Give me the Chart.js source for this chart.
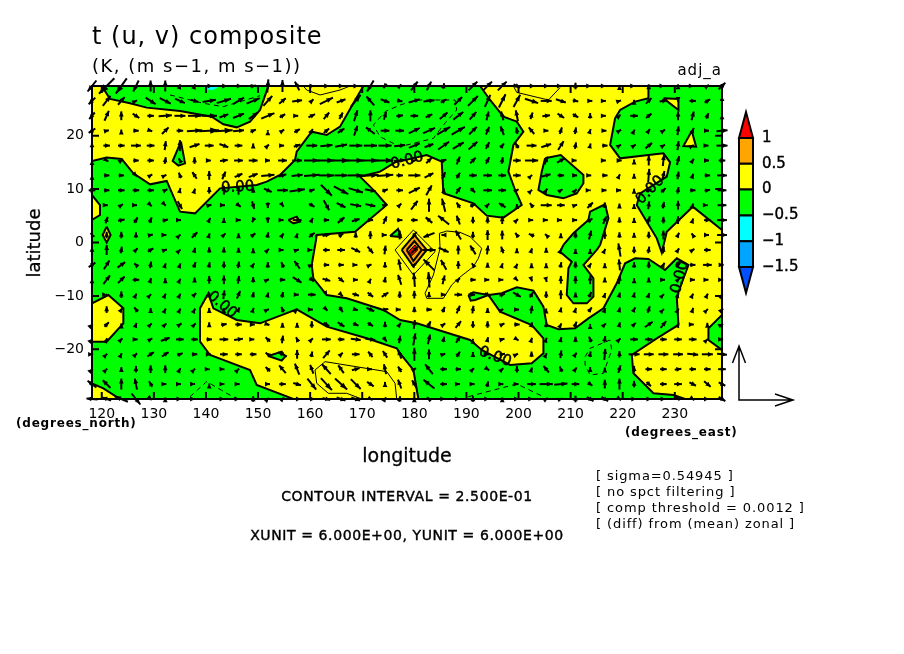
<!DOCTYPE html>
<html>
<head>
<meta charset="utf-8">
<script src="https://cdn.jsdelivr.net/npm/chart.js@4"></script>
<style>
  html, body { margin: 0; padding: 0; background: #fff; }
  canvas { display: block; }
</style>
</head>
<body>
<canvas id="chart" width="904" height="654"></canvas>
<script>
// tick labels
const lonTicks = [120, 130, 140, 150, 160, 170, 180, 190, 200, 210, 220, 230];
const latTicks = [-20, -10, 0, 10, 20];

// wind grid
const gridLons = [118.125,120.938,123.75,126.563,129.375,132.188,135,137.813,140.625,143.438,146.25,149.063,151.875,154.688,157.5,160.313,163.125,165.938,168.75,171.563,174.375,177.188,180,182.813,185.625,188.438,191.25,194.063,196.875,199.688,202.5,205.313,208.125,210.938,213.75,216.563,219.375,222.188,225,227.813,230.625,233.438,236.25,239.0625];
const gridLats = [29.30,26.51,23.72,20.93,18.14,15.35,12.56,9.77,6.98,4.19,1.40,-1.40,-4.19,-6.98,-9.77,-12.56,-15.35,-18.14,-20.93,-23.72,-26.51,-29.30];

// u and v in tenths of m/s, one line per latitude
const uRows = [
[-8,-14,-10,-5,0,0,1,1,6,6,6,5,1,0,-4,5,5,5,5,-6,-3,3,6,4,1,0,8,8,8,6,6,5,2,0,2,2,0,2,0,2,0,2,3,6],
[-6,7,6,2,9,10,9,7,12,13,10,12,8,6,9,3,12,8,9,-7,8,5,10,10,5,7,9,5,6,6,12,10,9,5,4,2,3,0,5,7,0,6,5,0],
[-5,4,0,6,6,12,10,12,14,8,10,8,12,5,2,6,5,3,3,0,2,6,7,6,7,9,6,2,-2,-2,2,7,6,5,0,2,2,7,5,0,0,2,2,0],
[-6,4,0,5,3,6,6,14,18,16,10,5,0,3,5,2,5,6,3,-8,8,8,10,11,12,12,7,3,-3,-1,-5,4,2,1,1,3,3,1,2,3,1,2,3,10],
[0,6,6,9,7,1,0,9,8,8,7,0,2,3,6,10,11,11,12,12,12,10,10,8,10,10,8,3,3,-3,9,9,5,1,1,5,3,3,6,3,1,2,2,10],
[0,3,3,5,6,1,-2,0,3,7,8,8,4,8,9,14,15,15,15,15,15,10,3,5,5,3,5,3,1,7,12,3,7,2,0,2,4,0,0,1,2,2,3,6],
[0,5,5,2,3,2,-2,-4,0,3,7,8,12,7,10,14,14,12,14,15,15,6,11,8,3,3,7,8,7,7,1,8,6,3,2,5,1,0,1,2,1,1,5,9],
[6,5,6,6,6,4,1,1,0,0,0,0,7,10,14,5,10,13,13,10,5,6,10,5,0,4,4,8,7,3,1,2,3,2,1,3,3,0,5,4,1,5,5,8],
[0,2,3,2,2,1,4,0,4,2,4,2,0,2,0,5,5,8,10,9,4,3,6,0,-3,-3,5,3,-6,0,-3,10,7,3,5,0,0,0,1,1,0,1,1,8],
[0,2,6,3,2,5,2,0,2,0,4,-2,0,2,8,2,5,6,7,5,3,5,6,-6,-10,-3,0,0,0,2,3,3,2,3,4,3,0,0,2,0,0,1,6,9],
[-2,0,0,0,4,2,1,5,1,3,0,4,1,2,1,5,7,4,0,0,3,0,-4,-10,-4,-5,0,0,0,-3,-5,-2,0,0,2,0,0,0,0,0,2,-2,3,9],
[0,0,1,3,5,3,1,1,0,0,0,0,2,2,3,1,6,7,8,5,1,0,6,12,9,0,-5,1,-2,0,1,0,1,0,0,1,-2,0,1,1,2,3,6,0],
[6,5,7,-3,1,1,1,2,1,0,1,2,0,-2,-5,2,5,5,3,2,0,-2,3,-10,-5,0,-2,0,1,1,0,0,1,0,2,0,-1,0,0,2,4,5,8,3],
[0,6,6,6,1,0,1,0,0,0,1,0,2,5,8,4,7,5,4,1,1,-3,-1,-1,2,3,5,3,2,2,1,1,0,0,0,0,1,0,0,3,3,4,2,2],
[0,1,0,1,1,1,1,3,0,1,3,1,1,1,3,7,1,3,6,5,6,0,0,0,4,7,4,5,5,7,3,0,0,0,2,1,1,1,1,1,1,1,1,1],
[0,0,2,-3,0,1,1,1,0,0,2,1,2,-2,1,2,2,3,4,7,6,2,0,5,2,3,1,0,2,4,1,0,1,1,3,1,1,2,2,1,1,1,1,2],
[1,4,0,1,2,2,3,2,0,5,6,3,3,0,0,0,5,6,5,5,0,2,1,3,3,5,0,0,4,5,1,0,1,2,0,2,1,3,7,5,1,2,0,2],
[1,1,2,3,3,8,7,6,5,8,8,2,-4,1,-2,2,8,6,9,9,3,1,2,2,1,4,0,1,4,3,1,1,1,0,-2,1,2,7,7,6,7,7,1,2],
[2,1,1,2,6,6,5,5,3,7,6,6,-4,-8,0,1,6,3,7,-4,-4,-3,0,0,3,3,0,2,5,2,0,1,1,2,1,1,0,10,9,9,9,10,10,9],
[1,1,0,0,0,0,1,1,1,1,1,0,-4,-6,-4,-3,-8,-5,7,3,-2,-3,3,-7,6,5,2,3,2,0,1,-5,-2,2,0,0,2,0,6,6,6,6,6,7],
[-8,-7,0,-2,-3,2,2,1,0,1,2,0,4,6,7,8,10,11,9,6,0,-3,-4,-10,6,3,3,1,2,3,8,12,12,7,4,0,0,0,4,6,7,6,6,6],
[-10,-8,-12,8,2,0,3,1,0,1,2,0,2,3,7,6,7,8,8,4,2,1,0,-4,3,3,0,3,0,4,3,3,3,0,6,6,3,4,5,4,3,3,3,6]
];
const vRows = [
[-10,-14,-14,-10,10,10,3,3,0,0,0,1,12,11,8,0,0,0,0,-10,-4,3,8,8,5,0,8,8,8,-3,0,0,0,6,0,0,2,0,3,0,3,0,2,6],
[-6,9,7,1,-6,-5,-4,-2,2,4,6,5,9,5,1,3,6,3,11,8,-3,-1,3,1,3,7,9,11,12,11,-4,0,-3,-1,0,0,1,2,5,1,-2,0,3,9],
[-6,9,8,-4,0,1,0,0,0,3,4,6,5,3,0,3,6,6,10,10,7,1,0,3,6,7,7,8,8,10,6,1,-4,-3,5,0,2,0,4,0,8,8,5,3],
[-4,1,2,0,-1,6,0,1,1,1,1,2,1,2,3,3,4,4,9,6,0,0,5,5,7,7,7,7,8,6,6,0,6,6,3,0,2,2,3,2,8,5,0,1],
[6,0,0,0,0,8,10,3,0,-3,0,4,2,0,2,0,1,2,0,0,0,1,4,3,7,6,7,6,4,5,0,3,8,6,4,0,2,2,5,2,8,1,0,0],
[1,-2,2,0,0,6,4,6,0,1,0,0,0,0,0,0,0,0,0,0,0,1,1,5,2,7,5,6,6,0,0,7,4,0,0,0,0,2,9,10,8,3,0,0],
[1,0,0,-2,2,1,5,6,8,7,3,3,1,2,1,1,0,0,0,1,1,0,0,4,6,5,0,0,0,0,1,2,0,0,0,0,2,3,12,8,7,3,0,0],
[0,0,0,0,0,2,4,3,6,8,8,5,-3,0,2,2,-10,-7,-4,-2,2,0,5,9,4,6,-4,0,0,2,1,3,2,2,0,0,0,3,2,4,6,0,1,0],
[0,0,2,0,-2,-1,-7,0,1,0,-3,-7,-5,-3,0,-3,-9,-4,-2,-2,2,3,8,12,12,5,2,3,4,2,4,0,0,1,5,5,3,2,7,6,8,3,0,0],
[0,6,1,5,5,1,0,0,4,4,0,-4,-5,0,0,4,0,5,2,0,7,0,0,5,8,8,6,6,7,2,0,0,0,0,3,7,5,4,7,6,7,3,0,0],
[4,6,6,5,1,0,1,5,3,3,3,3,5,3,3,4,2,3,5,7,0,8,-6,-4,0,8,6,9,8,4,2,2,3,6,8,7,5,4,6,8,4,3,0,0],
[6,9,6,3,3,1,1,4,5,5,4,3,2,0,1,0,0,0,-4,-6,8,0,6,0,-4,8,8,8,6,3,3,4,2,2,2,2,12,6,6,6,3,2,0,0],
[4,8,5,3,6,3,3,5,5,6,6,3,5,5,7,1,0,0,0,1,5,10,3,10,9,7,3,4,3,2,3,3,5,6,3,3,10,5,6,4,4,0,0,0],
[3,8,6,0,3,3,2,4,7,8,7,5,1,0,-5,-3,-2,-4,0,2,5,9,13,14,8,3,0,0,0,-2,-3,-4,7,7,8,4,8,3,4,0,3,0,0,0],
[0,0,6,2,1,2,2,3,4,8,7,5,4,5,0,0,-2,-3,-2,-4,4,6,7,5,0,0,0,-3,2,-4,5,6,8,4,5,3,4,4,3,1,3,2,2,1],
[0,6,3,4,3,2,2,2,3,3,4,3,1,5,1,0,-2,-5,-1,-3,1,0,5,0,5,7,7,3,1,0,7,2,4,3,4,3,4,4,6,1,2,3,1,2],
[1,4,2,3,2,2,2,2,4,1,0,0,-1,3,3,6,-3,-4,-2,-3,5,3,8,6,2,6,6,6,2,0,4,5,2,5,1,2,4,3,5,6,3,0,3,1],
[1,2,2,0,2,3,0,0,0,0,1,0,4,7,4,2,0,0,-1,-1,-4,7,11,9,5,6,1,4,1,-2,3,3,4,5,5,6,2,0,0,0,0,0,1,0],
[0,1,2,2,4,4,2,0,0,0,0,0,3,4,8,5,7,3,0,5,6,8,12,9,1,5,4,0,1,1,5,2,7,3,5,10,6,0,0,0,0,-1,0,-1],
[1,1,4,6,7,7,2,1,0,0,1,0,4,7,10,8,9,7,2,0,9,5,2,9,0,0,2,-2,2,6,3,6,5,3,4,3,7,6,0,0,1,0,0,0],
[6,7,10,10,5,0,0,0,1,0,0,0,0,0,-2,-10,-11,-10,-9,-4,4,8,7,8,0,0,0,5,0,0,0,0,1,0,-3,8,10,6,-4,0,0,-3,-5,-3],
[1,3,5,-10,-2,3,0,0,0,0,0,5,2,3,0,0,-2,-3,-3,-2,3,5,3,3,0,0,5,0,3,0,0,2,1,6,-4,-4,-2,0,0,0,-2,-2,0,-4]
];

// t = 0 contour, [lon, lat] outlines
const plotBox = [[118.125,29.3],[239.0625,29.3],[239.0625,-29.3],[118.125,-29.3]];
const mainGreen = [[118.1,15.26],[120.94,15.89],[123.82,15.63],[126.06,12.95],[129.26,10.89],[132.46,11.52],[135.02,5.78],[137.9,5.46],[142.7,10.14],[149.74,10.77],[151.66,11.39],[154.22,12.64],[157.1,15.45],[157.42,17.01],[160.3,20.75],[163.18,20.13],[165.74,21.69],[168.3,26.06],[170.22,29.3],[192.62,29.3],[194.54,26.68],[197.1,23.56],[199.66,22.62],[200.94,20.75],[199.02,18.26],[198.06,13.26],[199.34,9.83],[200.62,7.02],[197.1,4.65],[193.9,5.03],[191.34,7.34],[185.58,9.21],[185.26,15.14],[182.38,16.38],[176.3,15.0],[173.42,13.26],[169.58,12.33],[172.46,9.52],[174.7,7.02],[168.62,2.03],[161.26,1.41],[161.13,0.47],[160.3,-4.21],[160.62,-6.71],[163.18,-9.83],[167.02,-10.45],[174.06,-12.63],[177.26,-14.51],[180.46,-15.13],[190.7,-18.25],[192.94,-20.12],[198.38,-22.93],[202.54,-22.62],[204.78,-20.75],[204.78,-17.94],[202.54,-15.44],[196.46,-12.95],[194.22,-9.83],[196.78,-9.51],[199.66,-8.39],[202.86,-9.01],[204.78,-12.01],[205.42,-15.44],[207.66,-16.25],[210.86,-16.07],[213.42,-14.2],[216.3,-12.32],[218.86,-7.64],[220.46,-3.9],[222.38,-2.96],[224.94,-3.09],[228.14,-5.15],[230.38,-2.96],[232.62,-4.21],[230.38,-10.14],[230.7,-15.44],[226.54,-17.94],[221.74,-21.06],[222.06,-24.49],[225.9,-28.23],[229.74,-28.55],[232,-29.3],[180.78,-29.3],[179.82,-23.87],[177.26,-20.75],[176.62,-19.81],[170.86,-17.94],[163.18,-15.75],[157.42,-12.51],[150.38,-15.13],[145.9,-14.51],[141.42,-12.32],[140.46,-9.51],[138.86,-12.32],[138.86,-18.56],[140.78,-21.06],[148.46,-23.87],[149.74,-26.67],[156.78,-29.3],[123.5,-29.3],[120.3,-27.3],[118.1,-26.36],[118.1,-18.56],[120.94,-18.56],[124.14,-15.13],[124.14,-12.32],[121.26,-9.83],[118.1,-11.39],[118.1,4.22],[119.66,5.15],[119.66,7.02],[118.1,8.9]];
const topGreen = [[120,29.3],[121.58,26.87],[125.42,26.06],[128.62,25.25],[135.02,24.62],[141.1,23.56],[143.34,22.12],[145.9,21.56],[148.46,22.62],[150.38,24.81],[151.98,29.3]];
const rightGreen = [[224.94,29.3],[224.94,26.99],[222.38,26.37],[219.5,24.81],[218.54,23.25],[217.58,18.26],[219.5,15.76],[224.94,16.38],[227.82,16.7],[229.1,15.01],[228.46,12.33],[223.34,9.21],[222.7,7.02],[226.54,0.78],[227.5,-1.9],[228.46,2.03],[233.45,6.71],[239.06,2.34],[239.06,29.3]];
const midGreen = [[205.1,15.76],[208.1,16.38],[212.46,12.64],[212.46,11.08],[211.18,9.21],[208.62,8.27],[205.42,8.9],[203.82,9.83],[204.46,13.26]];
const lowGreen = [[208.62,-0.46],[210.54,1.72],[213.42,4.22],[213.74,5.78],[216.62,7.15],[217.26,4.53],[215.66,-0.46],[215.02,-1.4],[212.46,-4.21],[214.38,-6.71],[214.38,-10.14],[213.1,-11.39],[210.54,-11.39],[209.26,-9.83],[209.58,-4.83],[210.22,-3.59],[207.98,-1.71]];
const edgeGreen = [[239.06,-13.57],[236.46,-16.07],[236.46,-18.25],[239.06,-20.12]];
const smallGreens = [
  [[135.2,18.88],[135.98,14.82],[134.7,14.39],[133.61,15.26]],
  [[151.98,-21.25],[154.54,-20.43],[155.18,-21.37],[154.54,-22.12]],
  [[190.38,-9.83],[191.34,-9.33],[194.22,-9.83],[191.66,-10.76],[190.83,-10.89]],
  [[175.34,1.22],[176.88,2.53],[177.45,1.03]]
];
const smallYellows = [
  [[227.82,26.99],[230.7,26.87],[230.7,24.81]],
  [[233.26,20.88],[231.66,18.07],[234.09,17.94]],
  [[120.94,2.97],[121.7,1.41],[120.94,-0.03],[120.17,1.41]],
  [[155.82,4.22],[157.42,4.84],[158.06,3.9],[156.78,3.59]]
];
const cyanTop = [[139.3,29.3],[142.8,29.3],[141.2,28.5],[140.1,28.7]];

// warm spot near 180E, outer to inner
const spotOuter = [[176.3,-1.4],[179.82,2.34],[183.98,-1.71],[179.82,-6.08]];
const spotMid = [[177.58,-1.4],[180.01,1.41],[182.38,-1.4],[179.82,-4.52]];
const spotInner = [[178.54,-1.4],[180.01,0.28],[181.42,-1.4],[179.82,-3.46]];
const spotCore = [[178.86,-1.71],[180.14,-0.47],[180.65,-1.4],[179.5,-2.46]];

// thin contours
const thinSolid = [
  [[184.81,1.72],[186.22,2.15],[188.78,1.9],[190.7,1.09],[192.94,-1.09],[192.3,-2.96],[191.34,-4.52],[188.46,-6.71],[187.18,-7.95],[185.58,-10.45],[182.38,-10.45],[182.06,-9.51],[183.66,-6.08],[184.94,-1.09],[184.81,1.72]],
  [[160.94,-23.87],[162.86,-22.31],[174.7,-24.18],[176.3,-26.36],[176.62,-29.3]],
  [[160.94,-23.87],[161.26,-26.36],[163.5,-28.23],[167.02,-28.23],[169.9,-29.3]],
  [[158.7,29.3],[159.34,28.55],[161.9,27.62],[165.74,28.55],[167.66,29.3]],
  [[199.02,29.3],[199.66,28.1],[205.74,26.68],[207.98,29.0]]
];
const thinDashed = [
  [[177.26,25.74],[180.46,26.68],[187.82,26.68],[188.14,24.81],[185.58,22.0],[183.66,19.5],[177.26,17.94],[173.42,19.8],[172.14,22.0],[174.38,24.5],[177.26,25.74]],
  [[133.1,27.62],[139.5,26.06],[143.34,25.43],[150.38,27.49]],
  [[212.78,-21.37],[213.74,-19.81],[217.58,-18.25],[217.9,-20.12],[216.3,-24.49],[213.74,-24.8],[212.78,-22.93],[212.78,-21.37]],
  [[190.38,-28.86],[199.66,-26.49],[204.78,-28.86]],
  [[136.94,-28.86],[140.14,-26.05],[145.9,-29.3]]
];

// contour labels: lon, lat, rotation in degrees
const contourLabels = [
  [146.1, 10.3, -3], [178.6, 15.3, -15], [225.3, 9.8, -45],
  [231, -6.5, -75], [195.5, -21.4, 20], [143.1, -11.7, 40]
];

// colour bar
const barLevels = ['1', '0.5', '0', '\u22120.5', '\u22121', '\u22121.5'];
const barColours = ['#ff0000', '#ffa500', '#ffff00', '#00ff00', '#00ffff', '#00a5ff', '#0050ff'];
const refU = 6, refV = 6;

const REF_PX_PER_MS = 9;
const ARROW_PX_PER_MS = 11;

function closed(pts) { return pts.concat([pts[0]]).map(p => ({ x: p[0], y: p[1] })); }

function polygon(pts, colour, border) {
  return {
    data: closed(pts), showLine: true, fill: 'shape', backgroundColor: colour,
    borderColor: '#000', borderWidth: border, pointRadius: 0, tension: 0, borderJoinStyle: 'miter'
  };
}
function thinLine(pts, dash) {
  return {
    data: pts.map(p => ({ x: p[0], y: p[1] })), showLine: true, fill: false,
    borderColor: '#000', borderWidth: 1, borderDash: dash ? [5, 4] : [], pointRadius: 0, tension: 0
  };
}

const windPoints = [];
gridLats.forEach((lat, j) => {
  gridLons.forEach((lon, k) => {
    windPoints.push({ x: lon, y: lat, u: uRows[j][k] / 10, v: vRows[j][k] / 10 });
  });
});

// paint order, first at the bottom (reversed for Chart.js below)
const layers = [
  polygon(plotBox, '#ffff00', 0),
  polygon(mainGreen, '#00ff00', 2),
  polygon(topGreen, '#00ff00', 2),
  polygon(rightGreen, '#00ff00', 2),
  polygon(midGreen, '#00ff00', 2),
  polygon(lowGreen, '#00ff00', 2),
  polygon(edgeGreen, '#00ff00', 2),
  ...smallGreens.map(p => polygon(p, '#00ff00', 2)),
  ...smallYellows.map(p => polygon(p, '#ffff00', 2)),
  polygon(cyanTop, '#00ffff', 0),
  polygon(spotOuter, '#ffff00', 1),
  polygon(spotMid, '#ffa500', 2),
  polygon(spotInner, '#ffa500', 2),
  polygon(spotCore, '#ff0000', 1),
  ...thinSolid.map(p => thinLine(p, false)),
  ...thinDashed.map(p => thinLine(p, true)),
  { label: 'wind', data: windPoints, pointRadius: 0, clip: false }
];

function label(ctx, text, x, y, font, align, spacing, heavy) {
  ctx.font = font;
  ctx.textAlign = align || 'left';
  ctx.textBaseline = 'middle';
  ctx.letterSpacing = (spacing || 0) + 'px';
  ctx.fillStyle = '#000';
  ctx.fillText(text, x, y);
  if (heavy) {
    ctx.strokeStyle = '#000';
    ctx.lineWidth = heavy;
    ctx.strokeText(text, x, y);
  }
  ctx.letterSpacing = '0px';
}

function drawArrow(ctx, x, y, dx, dy) {
  const len = Math.hypot(dx, dy);
  if (len < 0.5) return;
  const x0 = x - dx / 2, y0 = y - dy / 2, x1 = x + dx / 2, y1 = y + dy / 2;
  const ux = dx / len, uy = dy / len;
  const head = Math.max(len * 0.45, 5), half = Math.max(len * 0.16, 2.4);
  ctx.beginPath();
  ctx.moveTo(x0, y0);
  ctx.lineTo(x1, y1);
  ctx.stroke();
  ctx.beginPath();
  ctx.moveTo(x1, y1);
  ctx.lineTo(x1 - ux * head - uy * half, y1 - uy * head + ux * half);
  ctx.lineTo(x1 - ux * head + uy * half, y1 - uy * head - ux * half);
  ctx.closePath();
  ctx.fill();
}

const overlay = {
  id: 'overlay',
  afterDatasetsDraw(chart) {
    const ctx = chart.ctx, xs = chart.scales.x, ys = chart.scales.y, area = chart.chartArea;
    ctx.save();

    // contour labels
    contourLabels.forEach(c => {
      ctx.save();
      ctx.translate(xs.getPixelForValue(c[0]), ys.getPixelForValue(c[1]));
      ctx.rotate(c[2] * Math.PI / 180);
      label(ctx, '0.00', 0, 0, '15px "DejaVu Sans"', 'center', 0, 0.5);
      ctx.restore();
    });

    // wind arrows
    ctx.strokeStyle = '#000';
    ctx.fillStyle = '#000';
    ctx.lineWidth = 2;
    const windIndex = chart.data.datasets.findIndex(d => d.label === 'wind');
    const meta = chart.getDatasetMeta(windIndex);
    meta.data.forEach((pt, i) => {
      const w = windPoints[i];
      drawArrow(ctx, pt.x, pt.y, w.u * ARROW_PX_PER_MS, -w.v * ARROW_PX_PER_MS);
    });

    // frame and inward ticks
    ctx.lineWidth = 2;
    ctx.strokeRect(area.left, area.top, area.right - area.left, area.bottom - area.top);
    ctx.beginPath();
    lonTicks.forEach(v => {
      const px = xs.getPixelForValue(v);
      ctx.moveTo(px, area.top); ctx.lineTo(px, area.top + 7);
      ctx.moveTo(px, area.bottom); ctx.lineTo(px, area.bottom - 7);
    });
    latTicks.forEach(v => {
      const py = ys.getPixelForValue(v);
      ctx.moveTo(area.left, py); ctx.lineTo(area.left + 7, py);
      ctx.moveTo(area.right, py); ctx.lineTo(area.right - 7, py);
    });
    ctx.stroke();

    // colour bar
    const barLeft = 739, barRight = 753, barMid = 746, barTop = 138, step = 25.8;
    barColours.forEach((colour, i) => {
      ctx.beginPath();
      if (i === 0) {
        ctx.moveTo(barLeft, barTop); ctx.lineTo(barMid, barTop - 26); ctx.lineTo(barRight, barTop);
        ctx.closePath();
      } else if (i === barColours.length - 1) {
        const b = barTop + step * (i - 1);
        ctx.moveTo(barLeft, b); ctx.lineTo(barMid, b + 26); ctx.lineTo(barRight, b);
        ctx.closePath();
      } else {
        ctx.rect(barLeft, barTop + step * (i - 1), barRight - barLeft, step);
      }
      ctx.fillStyle = colour;
      ctx.fill();
      ctx.strokeStyle = '#000';
      ctx.lineWidth = 2;
      ctx.stroke();
    });
    barLevels.forEach((text, i) => {
      label(ctx, text, 762, barTop + step * i, '15px "DejaVu Sans"', 'left', 0, 0.4);
    });

    // reference arrows
    const ox = 739, oy = 400, rx = ox + refU * REF_PX_PER_MS, ry = oy - refV * REF_PX_PER_MS;
    ctx.strokeStyle = '#000';
    ctx.lineWidth = 1.5;
    ctx.beginPath();
    ctx.moveTo(ox, ry); ctx.lineTo(ox, oy); ctx.lineTo(rx, oy);
    ctx.moveTo(ox - 6.5, ry + 17); ctx.lineTo(ox, ry); ctx.lineTo(ox + 6.5, ry + 17);
    ctx.moveTo(rx - 18, oy - 6); ctx.lineTo(rx, oy); ctx.lineTo(rx - 18, oy + 6);
    ctx.stroke();

    // titles and notes
    label(ctx, 't (u, v) composite', 92, 38, '24px "DejaVu Sans"', 'left', 1);
    label(ctx, '(K, (m s\u22121, m s\u22121))', 92, 67, '18px "DejaVu Sans"', 'left', 1.5);
    label(ctx, 'adj_a', 722, 71, '15px "DejaVu Sans"', 'right', 1);
    label(ctx, '(degrees_north)', 16, 424, 'bold 12px "DejaVu Sans"', 'left', 0.8);
    label(ctx, '(degrees_east)', 625, 433, 'bold 12px "DejaVu Sans"', 'left', 0.85);
    label(ctx, 'longitude', 407, 457, '19px "DejaVu Sans"', 'center', 0, 0.3);
    ctx.save();
    ctx.translate(35, 243);
    ctx.rotate(-Math.PI / 2);
    label(ctx, 'latitude', 0, 0, '18px "DejaVu Sans"', 'center', 0, 0.3);
    ctx.restore();
    label(ctx, 'CONTOUR INTERVAL = 2.500E-01', 407, 497, '14px "DejaVu Sans"', 'center', 0.6, 0.4);
    label(ctx, 'XUNIT = 6.000E+00, YUNIT = 6.000E+00', 407, 536, '14px "DejaVu Sans"', 'center', 0.6, 0.4);
    label(ctx, '[ sigma=0.54945 ]', 596, 477, '13px "DejaVu Sans"', 'left', 0.9);
    label(ctx, '[ no spct filtering ]', 596, 493, '13px "DejaVu Sans"', 'left', 0.9);
    label(ctx, '[ comp threshold = 0.0012 ]', 596, 509, '13px "DejaVu Sans"', 'left', 0.9);
    label(ctx, '[ (diff) from (mean) zonal ]', 596, 525, '13px "DejaVu Sans"', 'left', 0.9);

    ctx.restore();
  }
};

new Chart(document.getElementById('chart').getContext('2d'), {
  type: 'scatter',
  data: { datasets: layers.slice().reverse() },
  plugins: [overlay],
  options: {
    responsive: false,
    animation: false,
    events: [],
    layout: { padding: { left: 0, top: 86, right: 182, bottom: 0 } },
    plugins: { legend: { display: false }, tooltip: { enabled: false }, title: { display: false } },
    scales: {
      x: {
        type: 'linear', min: 118.125, max: 239.0625,
        afterBuildTicks: s => { s.ticks = lonTicks.map(v => ({ value: v })); },
        afterFit: s => { s.height = 255; },
        grid: { display: false, drawTicks: false },
        border: { display: false },
        ticks: { color: '#000', padding: 7, maxRotation: 0, autoSkip: false, font: { family: 'DejaVu Sans', size: 14 } }
      },
      y: {
        type: 'linear', min: -29.3, max: 29.3,
        afterBuildTicks: s => { s.ticks = latTicks.map(v => ({ value: v })); },
        afterFit: s => { s.width = 92; },
        grid: { display: false, drawTicks: false },
        border: { display: false },
        ticks: {
          color: '#000', padding: 8, autoSkip: false, font: { family: 'DejaVu Sans', size: 14 },
          callback: v => String(v).replace('-', '\u2212')
        }
      }
    }
  }
});
</script>
</body>
</html>
